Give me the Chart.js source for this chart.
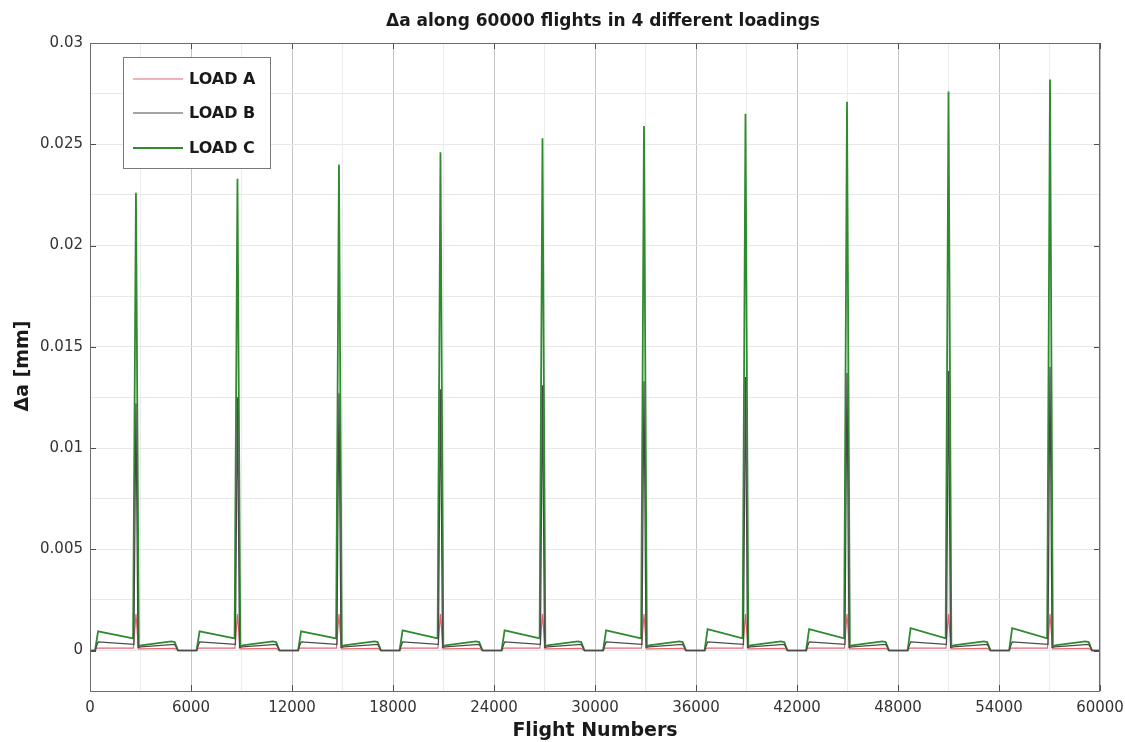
<!DOCTYPE html>
<html><head><meta charset="utf-8">
<script src="https://cdn.jsdelivr.net/npm/chart.js@4.4.1/dist/chart.umd.min.js"></script>
<style>html,body{margin:0;padding:0;background:#fff}</style>
</head><body>
<canvas id="c" width="1125" height="742"></canvas>
<script>
// ---------------- data ----------------
const seriesNames = ['LOAD A', 'LOAD B', 'LOAD C'];
const seriesColors = ['#e26670', '#4a4a4a', '#2e8b2e'];

// flight number of the crack-growth spike in each 6000-flight block
const spikeFlights = [2730, 8760, 14790, 20820, 26880, 32910, 38940, 44970, 51000, 57030];

// peak heights of the spikes [mm]
const peakA = [0.0018, 0.0018, 0.0018, 0.0018, 0.0018, 0.0018, 0.0018, 0.0018, 0.0018, 0.0018];
const peakB = [0.0122, 0.0125, 0.0127, 0.0129, 0.0131, 0.0133, 0.0135, 0.0137, 0.0138, 0.0140];
const peakC = [0.0226, 0.0233, 0.0240, 0.0246, 0.0253, 0.0259, 0.0265, 0.0271, 0.0276, 0.0282];

// height of the small hump at the start of each block (LOAD C) [mm]
const humpC = [0.00095, 0.00095, 0.00095, 0.0010, 0.0010, 0.0010, 0.00105, 0.00105, 0.0011, 0.0011];

// shape of one block, flights relative to the spike, values [mm]; null = spike peak
const offsetsA = [-2430, -2300, -150, 0, 150, 300, 2300, 2500];
const valuesA  = [0, 0.00012, 0.00012, null, 0.00008, 0.00008, 0.0001, 0];
const offsetsB = [-2430, -2250, -120, 0, 120, 300, 2300, 2500];
const valuesB  = [0, 0.00042, 0.0003, null, 0.00015, 0.00018, 0.0003, 0];
const offsetsC = [-2430, -2250, -170, 0, 170, 300, 2100, 2300, 2500];
const valuesC  = [0, 'hump', 0.0006, null, 0.0002, 0.00025, 0.00045, 0.00042, 0];

const xMin = 0, xMax = 60000;
const yMin = -0.002, yMax = 0.03;
const xGridValues = [0, 3000, 6000, 9000, 12000, 15000, 18000, 21000, 24000, 27000, 30000,
  33000, 36000, 39000, 42000, 45000, 48000, 51000, 54000, 57000, 60000];
const xTickValues = [0, 6000, 12000, 18000, 24000, 30000, 36000, 42000, 48000, 54000, 60000];
const xTickLabels = ['0', '6000', '12000', '18000', '24000', '30000', '36000', '42000', '48000', '54000', '60000'];
const yGridValues = [0, 0.0025, 0.005, 0.0075, 0.01, 0.0125, 0.015, 0.0175, 0.02, 0.0225, 0.025, 0.0275, 0.03];
const yTickValues = [0, 0.005, 0.01, 0.015, 0.02, 0.025, 0.03];
const yTickLabels = ['0', '0.005', '0.01', '0.015', '0.02', '0.025', '0.03'];

const chartTitle = '\u0394a along 60000 flights in 4 different loadings';
const xTitle = 'Flight Numbers';
const yTitle = '\u0394a [mm]';

// ---------------- build the point lists ----------------
function buildSeries(offsets, values, peaks, humps) {
  const pts = [{x: xMin, y: 0}];
  spikeFlights.forEach((s, k) => {
    offsets.forEach((o, i) => {
      let v = values[i];
      if (v === null) v = peaks[k];
      else if (v === 'hump') v = humps[k];
      pts.push({x: s + o, y: v});
    });
  });
  pts.push({x: xMax, y: 0});
  return pts;
}
const dataA = buildSeries(offsetsA, valuesA, peakA, null);
const dataB = buildSeries(offsetsB, valuesB, peakB, null);
const dataC = buildSeries(offsetsC, valuesC, peakC, humpC);

const near = (a, b) => Math.abs(a - b) < 1e-9;
const idxOf = (arr, v) => arr.findIndex(t => near(t, v));

const FONT = "'DejaVu Sans', 'Liberation Sans', Arial, sans-serif";

// ---------------- plugins ----------------
const decor = {
  id: 'decor',
  afterDraw(chart) {
    const {ctx, chartArea: a, scales} = chart;
    ctx.save();
    // inner tick marks
    ctx.strokeStyle = '#4d4d4d';
    ctx.lineWidth = 1;
    ctx.beginPath();
    xTickValues.forEach(v => {
      const x = Math.round(scales.x.getPixelForValue(v)) + 0.5;
      ctx.moveTo(x, a.bottom); ctx.lineTo(x, a.bottom - 6);
      ctx.moveTo(x, a.top); ctx.lineTo(x, a.top + 6);
    });
    yTickValues.forEach(v => {
      const y = Math.round(scales.y.getPixelForValue(v)) + 0.5;
      ctx.moveTo(a.left, y); ctx.lineTo(a.left + 6, y);
      ctx.moveTo(a.right, y); ctx.lineTo(a.right - 6, y);
    });
    ctx.stroke();
    // frame
    ctx.strokeStyle = '#6b6b6b';
    ctx.strokeRect(Math.round(a.left) + 0.5, Math.round(a.top) + 0.5,
      Math.round(a.right - a.left) - 1, Math.round(a.bottom - a.top));

    // legend
    const lx = 123.5, ly = 57.5, lw = 147, lh = 111;
    ctx.fillStyle = '#ffffff';
    ctx.fillRect(lx, ly, lw, lh);
    ctx.strokeStyle = '#7a7a7a';
    ctx.strokeRect(lx, ly, lw, lh);
    const rowY = [79, 113, 148];
    chart.data.datasets.forEach((ds, i) => {
      ctx.strokeStyle = ds.borderColor;
      ctx.lineWidth = i === 2 ? 1.8 : 1.2;
      ctx.beginPath();
      ctx.moveTo(133, rowY[i]); ctx.lineTo(183, rowY[i]);
      ctx.stroke();
      ctx.fillStyle = '#1a1a1a';
      ctx.font = 'bold 16px ' + FONT;
      ctx.textAlign = 'left'; ctx.textBaseline = 'middle';
      ctx.fillText(ds.label, 189, rowY[i] + 1);
    });

    // titles
    ctx.fillStyle = '#1a1a1a';
    ctx.textAlign = 'center'; ctx.textBaseline = 'middle';
    ctx.font = 'bold 17px ' + FONT;
    ctx.fillText(chartTitle, 603, 22);
    ctx.font = 'bold 19px ' + FONT;
    ctx.fillText(xTitle, 595, 731);
    ctx.translate(23, 366);
    ctx.rotate(-Math.PI / 2);
    ctx.fillText(yTitle, 0, 0);
    ctx.restore();
  }
};

// ---------------- chart ----------------
new Chart(document.getElementById('c'), {
  type: 'line',
  data: {
    datasets: [
      {label: seriesNames[0], data: dataA, borderColor: seriesColors[0], borderWidth: 1.2, order: 3},
      {label: seriesNames[1], data: dataB, borderColor: seriesColors[1], borderWidth: 1.2, order: 1},
      {label: seriesNames[2], data: dataC, borderColor: seriesColors[2], borderWidth: 1.8, order: 2}
    ]
  },
  options: {
    responsive: false,
    animation: false,
    devicePixelRatio: 1,
    layout: {padding: {top: 43, right: 25, left: 0, bottom: 0}},
    elements: {point: {radius: 0}, line: {tension: 0}},
    plugins: {legend: {display: false}, title: {display: false}, tooltip: {enabled: false}},
    scales: {
      x: {
        type: 'linear', min: xMin, max: xMax,
        afterBuildTicks: s => { s.ticks = xGridValues.map(v => ({value: v})); },
        afterFit: s => { s.height = 51; s.paddingLeft = 0; s.paddingRight = 0; },
        border: {display: false},
        grid: {drawTicks: false,
          color: c => idxOf(xTickValues, c.tick.value) >= 0 ? '#c4c4c4' : '#ececec'},
        ticks: {autoSkip: false, maxRotation: 0, padding: 8, color: '#333',
          font: {family: FONT, size: 15},
          callback: v => { const i = idxOf(xTickValues, v); return i >= 0 ? xTickLabels[i] : ''; }}
      },
      y: {
        type: 'linear', min: yMin, max: yMax,
        afterBuildTicks: s => { s.ticks = yGridValues.map(v => ({value: v})); },
        afterFit: s => { s.width = 90; s.paddingTop = 0; s.paddingBottom = 0; },
        border: {display: false},
        grid: {drawTicks: false, color: '#e8e8e8'},
        ticks: {autoSkip: false, padding: 7, color: '#333',
          font: {family: FONT, size: 15},
          callback: v => { const i = idxOf(yTickValues, v); return i >= 0 ? yTickLabels[i] : ''; }}
      }
    }
  },
  plugins: [decor]
});
</script>
</body></html>
